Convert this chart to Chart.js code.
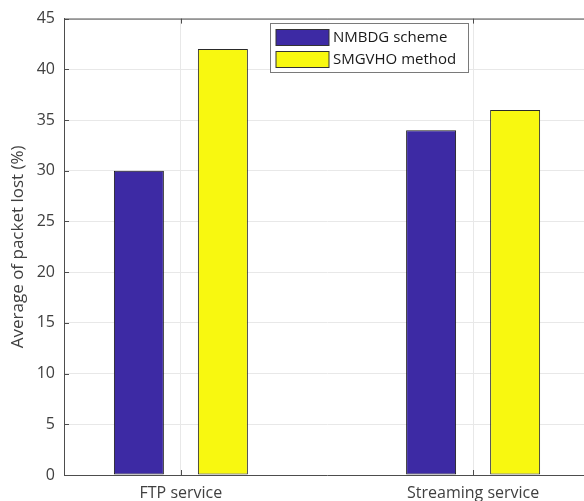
<!DOCTYPE html>
<html>
<head>
<meta charset="utf-8">
<script src="https://cdn.jsdelivr.net/npm/chart.js@4.4.0/dist/chart.umd.min.js"></script>
<style>
  html, body { margin: 0; padding: 0; background: #fff; overflow: hidden; }
  #wrap { width: 584px; height: 501px; position: relative; overflow: hidden; }
</style>
</head>
<body>
<div id="wrap"><canvas id="chart" width="596" height="501"></canvas></div>
<script>
// data
var categories = ['FTP service', 'Streaming service'];
var nmbdg = [30, 34];
var smgvho = [42, 36];
var seriesNames = ['NMBDG scheme', 'SMGVHO method'];
var yTicks = [0, 5, 10, 15, 20, 25, 30, 35, 40, 45];

var FONT = '"Open Sans", "DejaVu Sans", sans-serif';
var AXIS = '#4d4d4d';
var TXT = '#404040';

function toPoints(vals) {
  return vals.map(function (v, i) { return { x: i + 1, y: v }; });
}

// matlab-ish box: top line, inward ticks, legend in the axes
var boxPlugin = {
  id: 'box',
  afterDraw: function (chart) {
    var ctx = chart.ctx, a = chart.chartArea;
    var xs = chart.scales.x, ys = chart.scales.y;
    ctx.save();
    ctx.strokeStyle = AXIS;
    ctx.lineWidth = 1;
    ctx.beginPath();
    ctx.moveTo(a.left, a.top + 0.5);
    ctx.lineTo(a.right, a.top + 0.5);
    // y ticks pointing in
    yTicks.forEach(function (t) {
      var py = Math.round(ys.getPixelForValue(t)) + 0.5;
      ctx.moveTo(a.left, py);
      ctx.lineTo(a.left + 5, py);
    });
    // x ticks top and bottom
    categories.forEach(function (c, i) {
      var px = Math.round(xs.getPixelForValue(i + 1)) + 0.5;
      ctx.moveTo(px, a.top);
      ctx.lineTo(px, a.top + 5);
      ctx.moveTo(px, a.bottom);
      ctx.lineTo(px, a.bottom - 5);
    });
    ctx.stroke();

    // legend
    var lx = 270.5, ly = 23.5, lw = 198, lh = 49;
    ctx.fillStyle = '#fff';
    ctx.fillRect(lx, ly, lw, lh);
    ctx.strokeStyle = '#7a7a7a';
    ctx.strokeRect(lx, ly, lw, lh);
    ctx.font = '15px ' + FONT;
    ctx.textBaseline = 'middle';
    chart.data.datasets.forEach(function (ds, i) {
      var sy = 29.5 + i * 22;
      ctx.fillStyle = ds.backgroundColor;
      ctx.fillRect(276, sy, 53, 16);
      ctx.strokeStyle = '#333';
      ctx.strokeRect(276, sy, 53, 16);
      ctx.fillStyle = '#1a1a1a';
      ctx.fillText(ds.label, 333, sy + 8);
    });
    ctx.restore();
  }
};

new Chart(document.getElementById('chart'), {
  type: 'bar',
  data: {
    datasets: [
      {
        label: seriesNames[0],
        data: toPoints(nmbdg),
        backgroundColor: '#3d2aa4',
        borderColor: '#1a1a1a',
        borderWidth: 1,
        borderSkipped: false
      },
      {
        label: seriesNames[1],
        data: toPoints(smgvho),
        backgroundColor: '#f8f810',
        borderColor: '#2a2a2a',
        borderWidth: 1,
        borderSkipped: false
      }
    ]
  },
  options: {
    responsive: false,
    animation: false,
    layout: { padding: { top: 18, right: 6, left: 0, bottom: 0 } },
    categoryPercentage: 0.575,
    barPercentage: 0.595,
    plugins: { legend: { display: false }, tooltip: { enabled: false } },
    scales: {
      x: {
        type: 'linear',
        min: 0.6,
        max: 2.4,
        offset: false,
        afterBuildTicks: function (s) {
          s.ticks = categories.map(function (c, i) { return { value: i + 1 }; });
        },
        afterFit: function (s) { s.height = 26; },
        grid: { color: '#e8e8e8', drawTicks: false, offset: false },
        border: { color: AXIS },
        ticks: {
          padding: 9,
          color: TXT,
          font: { family: FONT, size: 16 },
          maxRotation: 0,
          callback: function (v) { return categories[v - 1]; }
        }
      },
      y: {
        min: 0,
        max: 45,
        afterBuildTicks: function (s) {
          s.ticks = yTicks.map(function (t) { return { value: t }; });
        },
        afterFit: function (s) { s.width = 64; },
        grid: { color: '#e8e8e8', drawTicks: false },
        border: { color: AXIS },
        ticks: {
          padding: 9,
          color: TXT,
          font: { family: FONT, size: 16 }
        },
        title: {
          display: true,
          text: 'Average of packet lost (%)',
          color: TXT,
          font: { family: FONT, size: 17 },
          padding: { top: 8, bottom: 0 }
        }
      }
    }
  },
  plugins: [boxPlugin]
});
</script>
</body>
</html>
